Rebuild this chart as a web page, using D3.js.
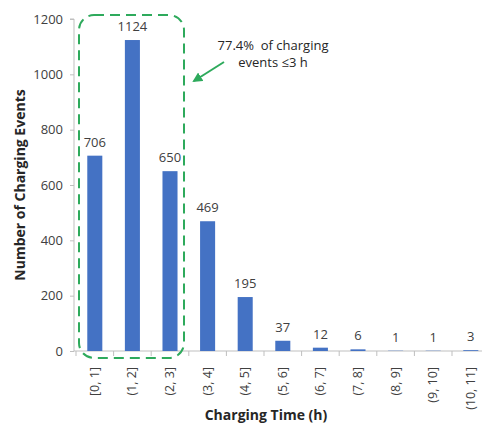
<!DOCTYPE html>
<html><head><meta charset="utf-8">
<script src="https://cdn.jsdelivr.net/npm/d3@7"></script>
<style>body{margin:0;background:#fff;} text{font-family:"Open Sans","Noto Sans",sans-serif;}</style>
</head><body>
<svg id="c" width="482" height="425"></svg>
<script>
const categories = ["[0, 1]","(1, 2]","(2, 3]","(3, 4]","(4, 5]","(5, 6]","(6, 7]","(7, 8]","(8, 9]","(9, 10]","(10, 11]"];
const values = [706, 1124, 650, 469, 195, 37, 12, 6, 1, 1, 3];
const yTicks = [0, 200, 400, 600, 800, 1000, 1200];
const annotationLines = ["77.4%  of charging", "events \u22643 h"];

const svg = d3.select("#c");
const mLeft = 74, mBottom = 351, mTop = 19, bandW = 37.6;
const x = d3.scaleBand().domain(categories).range([mLeft+2, mLeft+2+bandW*categories.length]).paddingInner(0.6).paddingOuter(0.3);
const y = d3.scaleLinear().domain([0,1200]).range([mBottom, mTop]);
const txt = "#404040", axisC = "#bfbfbf";

// y axis
const ya = svg.append("g").attr("transform",`translate(${mLeft},0)`)
  .call(d3.axisLeft(y).tickValues(yTicks).tickFormat(d3.format("d")).tickSize(4).tickPadding(7));
ya.select(".domain").attr("stroke",axisC).attr("d",`M-4,${mTop}H0V${mBottom}`);
ya.selectAll(".tick line").attr("stroke",axisC);
ya.selectAll(".tick text").attr("fill",txt).style("font-size","13px").style("font-family","Open Sans");

// x axis
const xs = d3.scaleLinear().domain([0,categories.length]).range([mLeft+2, mLeft+2+bandW*categories.length]);
const xg = svg.append("g").attr("transform",`translate(0,${mBottom})`);
xg.append("line").attr("x1",mLeft).attr("x2",482).attr("stroke",axisC);
xg.selectAll("line.t").data(d3.range(categories.length)).join("line").attr("class","t")
  .attr("x1",d=>xs(d)).attr("x2",d=>xs(d)).attr("y1",0).attr("y2",5).attr("stroke",axisC);
xg.selectAll("text").data(categories).join("text")
  .attr("transform",d=>`translate(${x(d)+x.bandwidth()/2+4},16) rotate(-90)`)
  .attr("text-anchor","end").attr("fill",txt).style("font-size","12.5px").text(d=>d);

// bars
svg.selectAll("rect.bar").data(values).join("rect").attr("class","bar")
  .attr("x",(d,i)=>x(categories[i])).attr("width",x.bandwidth())
  .attr("y",d=>y(d)).attr("height",d=>mBottom-y(d)).attr("fill","#4472c4");
svg.selectAll("text.lbl").data(values).join("text").attr("class","lbl")
  .attr("x",(d,i)=>x(categories[i])+x.bandwidth()/2).attr("y",d=>y(d)-9)
  .attr("text-anchor","middle").attr("fill",txt).style("font-size","13px").text(d=>d);

// titles
svg.append("text").attr("transform","translate(25,185) rotate(-90)").attr("text-anchor","middle")
  .attr("fill","#262626").style("font-size","14px").style("font-weight","bold").text("Number of Charging Events");
svg.append("text").attr("x",266).attr("y",420).attr("text-anchor","middle")
  .attr("fill","#262626").style("font-size","14px").style("font-weight","bold").text("Charging Time (h)");

// dashed box
const g = "#2eaa5c";
svg.append("rect").attr("x",79).attr("y",15).attr("width",105).attr("height",343).attr("rx",15).attr("ry",15)
  .attr("fill","none").attr("stroke",g).attr("stroke-width",2).attr("stroke-dasharray","10,6");

// annotation
svg.selectAll("text.ann").data(annotationLines).join("text").attr("class","ann")
  .attr("x",273).attr("y",(d,i)=>50+i*17).attr("text-anchor","middle").attr("fill","#262626")
  .style("font-size","13px").style("white-space","pre").text(d=>d);
svg.append("defs").append("marker").attr("id","ah").attr("viewBox","0 0 10 10").attr("refX",8).attr("refY",5)
  .attr("markerWidth",5).attr("markerHeight",5).attr("orient","auto")
  .append("path").attr("d","M0,0L10,5L0,10z").attr("fill",g);
svg.append("line").attr("x1",224).attr("y1",62).attr("x2",194).attr("y2",81)
  .attr("stroke",g).attr("stroke-width",2).attr("marker-end","url(#ah)");
</script>
</body></html>
